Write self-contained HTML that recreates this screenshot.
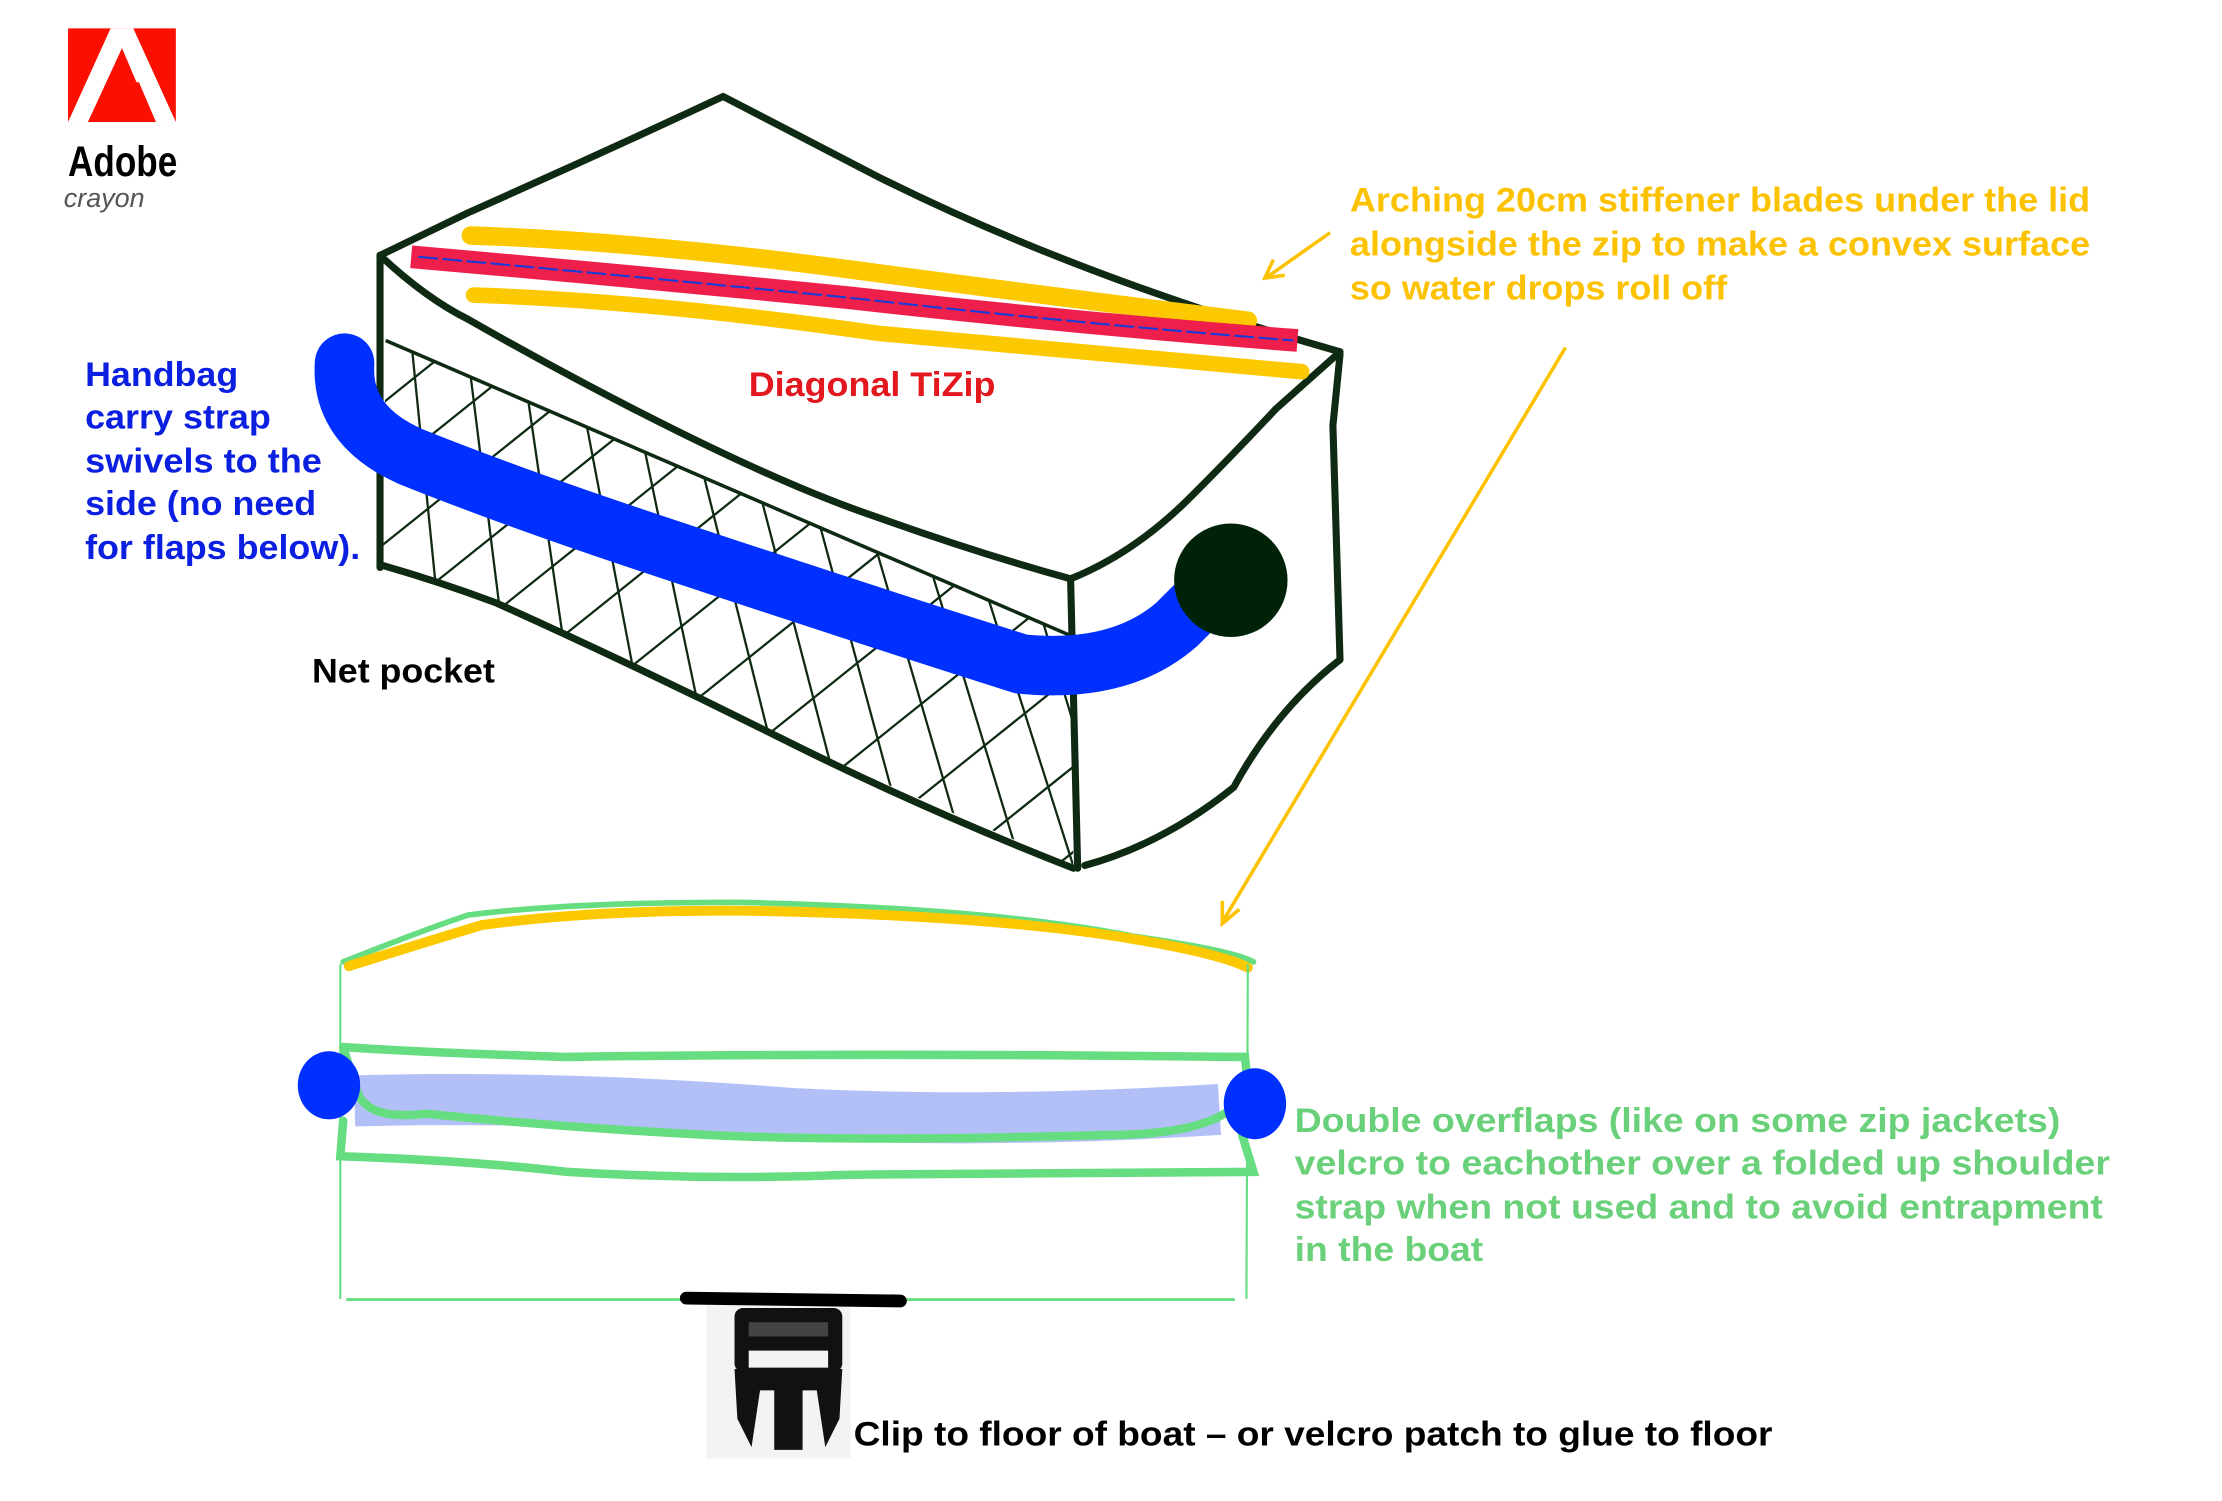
<!DOCTYPE html>
<html><head><meta charset="utf-8"><style>
html,body{margin:0;padding:0;background:#fff;}
svg{display:block;}
text{font-family:"Liberation Sans",Arial,sans-serif;font-weight:bold;}
</style></head><body>
<svg width="2222" height="1501" viewBox="0 0 1567 1058" preserveAspectRatio="none" xmlns="http://www.w3.org/2000/svg">
<rect width="1567" height="1058" fill="#fff"/>
<!-- Adobe logo -->
<rect x="48" y="20" width="76" height="66" fill="#fa0f00"/>
<polygon points="78,20 94,20 124,86 110,86 98,58 88,58 92,48 86,34 62,86 48,86" fill="#fff"/>
<polygon points="86,34 98,62 88,62" fill="#fa0f00"/>
<text x="48" y="124" font-size="30" fill="#000" textLength="77" lengthAdjust="spacingAndGlyphs">Adobe</text>
<text x="45" y="146" font-size="19" fill="#555" style="font-weight:normal" font-style="italic">crayon</text>

<!-- Box outline -->
<g fill="none" stroke="#0f2a12" stroke-width="5" stroke-linejoin="round" stroke-linecap="round">
<path d="M268,180 L330,150 Q420,110 510,68 L620,125 Q760,195 945,248"/>
<path d="M268,180 Q300,210 330,225 Q400,265 470,300 Q560,345 620,365 Q690,390 755,408"/>
<path d="M945,248 L900,288 Q870,320 840,350 Q800,390 755,408"/>
<path d="M268,180 L268,400"/>
<path d="M755,408 L760,612"/>
<path d="M945,250 L940,300 L945,465 Q900,500 870,555 Q820,595 765,610"/>
<path d="M268,398 Q310,410 350,425 Q450,470 550,520 Q650,570 757,612"/>
</g>
<!-- net -->
<path d="M272,240 L755,448" stroke="#0f2a12" stroke-width="2.5" fill="none"/>
<clipPath id="net"><polygon points="272,240 755,448 757,610 550,520 350,425 270,396"/></clipPath>
<g clip-path="url(#net)" stroke="#0f2a12" stroke-width="1.6">
<line x1="250" y1="300" x2="350" y2="220"/><line x1="250" y1="350" x2="400" y2="230"/><line x1="250" y1="400" x2="450" y2="240"/>
<line x1="270" y1="440" x2="500" y2="256"/><line x1="320" y1="455" x2="550" y2="271"/><line x1="370" y1="470" x2="600" y2="286"/>
<line x1="420" y1="490" x2="650" y2="306"/><line x1="470" y1="510" x2="700" y2="326"/><line x1="520" y1="535" x2="750" y2="351"/>
<line x1="570" y1="560" x2="800" y2="376"/><line x1="620" y1="585" x2="850" y2="401"/><line x1="670" y1="610" x2="900" y2="426"/>
<line x1="720" y1="630" x2="950" y2="446"/>
<line x1="290" y1="240" x2="310" y2="440"/><line x1="330" y1="250" x2="355" y2="450"/><line x1="370" y1="265" x2="400" y2="470"/>
<line x1="410" y1="280" x2="450" y2="490"/><line x1="450" y1="295" x2="495" y2="510"/><line x1="490" y1="310" x2="545" y2="530"/>
<line x1="530" y1="325" x2="590" y2="555"/><line x1="570" y1="340" x2="635" y2="580"/><line x1="610" y1="360" x2="680" y2="600"/>
<line x1="650" y1="380" x2="720" y2="610"/><line x1="690" y1="400" x2="760" y2="620"/><line x1="730" y1="420" x2="790" y2="620"/>
</g>
<!-- yellow stiffeners -->
<path d="M332,166 Q450,170 600,190 Q750,210 880,226" stroke="#fcc800" stroke-width="13" fill="none" stroke-linecap="round"/>
<path d="M334,208 Q460,212 620,235 Q780,250 918,262" stroke="#fcc800" stroke-width="11" fill="none" stroke-linecap="round"/>
<!-- red zip -->
<path d="M290,181 Q450,195 600,210 Q760,228 915,240" stroke="#ee1f4a" stroke-width="16" fill="none"/>
<path d="M295,181 Q450,195 600,210 Q760,228 912,240" stroke="#1b3bd8" stroke-width="1.5" fill="none" stroke-dasharray="14 3"/>
<!-- blue strap -->
<path d="M243,256 Q240,300 290,322 Q360,350 450,380 Q600,430 720,468 Q790,475 830,440 L850,420" stroke="#0030ff" stroke-width="42" fill="none" stroke-linecap="round"/>
<circle cx="868" cy="409" r="40" fill="#002308"/>

<!-- labels -->
<g fill="#fcc200" font-size="24">
<text x="952" y="149" textLength="522" lengthAdjust="spacingAndGlyphs">Arching 20cm stiffener blades under the lid</text>
<text x="952" y="180" textLength="522" lengthAdjust="spacingAndGlyphs">alongside the zip to make a convex surface</text>
<text x="952" y="211" textLength="266" lengthAdjust="spacingAndGlyphs">so water drops roll off</text>
</g>
<g stroke="#fcc200" stroke-width="2.5" fill="none">
<line x1="938" y1="164" x2="894" y2="195"/><polyline points="898,183 892,196 906,194"/>
<line x1="1104" y1="245" x2="862" y2="650"/><polyline points="862,635 862,651 874,641"/>
</g>
<g fill="#0a1fe0" font-size="24">
<text x="60" y="272" textLength="108" lengthAdjust="spacingAndGlyphs">Handbag</text>
<text x="60" y="302" textLength="131" lengthAdjust="spacingAndGlyphs">carry strap</text>
<text x="60" y="333" textLength="167" lengthAdjust="spacingAndGlyphs">swivels to the</text>
<text x="60" y="363" textLength="163" lengthAdjust="spacingAndGlyphs">side (no need</text>
<text x="60" y="394" textLength="194" lengthAdjust="spacingAndGlyphs">for flaps below).</text>
</g>
<text x="528" y="279" font-size="24" fill="#e3171e" textLength="174" lengthAdjust="spacingAndGlyphs">Diagonal TiZip</text>
<text x="220" y="481" font-size="24" fill="#000" textLength="129" lengthAdjust="spacingAndGlyphs">Net pocket</text>

<!-- lower drawing -->
<g fill="none" stroke-linecap="round">
<path d="M242,678 Q300,655 330,645 Q400,636 520,636 Q700,640 800,660 Q870,670 884,678" stroke="#66dd80" stroke-width="4"/>
<path d="M246,681 Q300,664 340,652 Q420,641 530,642 Q700,645 800,662 Q860,672 880,682" stroke="#fcc800" stroke-width="7"/>
<line x1="240" y1="680" x2="240" y2="915" stroke="#66dd80" stroke-width="1.5"/>
<line x1="880" y1="680" x2="879" y2="915" stroke="#66dd80" stroke-width="1.5"/>
<line x1="245" y1="916" x2="870" y2="916" stroke="#66dd80" stroke-width="2"/>
<path d="M250,776 Q400,772 560,785 Q700,792 860,782" stroke="#b3c0f8" stroke-width="36" stroke-linecap="butt"/>
<path d="M242,738 Q300,742 400,745 Q600,742 878,745 L880,765 Q870,800 780,800 Q600,805 500,800 Q400,795 300,785 Q260,790 252,770 L242,738" stroke="#66dd80" stroke-width="6"/>
<path d="M242,790 L240,815 Q330,818 400,826 Q500,832 600,828 L884,826 L876,800" stroke="#66dd80" stroke-width="6"/>
</g>
<ellipse cx="232" cy="765" rx="22" ry="24" fill="#0030ff"/>
<ellipse cx="885" cy="778" rx="22" ry="25" fill="#0030ff"/>
<g fill="#6ad07a" font-size="24">
<text x="913" y="798" textLength="540" lengthAdjust="spacingAndGlyphs">Double overflaps (like on some zip jackets)</text>
<text x="913" y="828" textLength="575" lengthAdjust="spacingAndGlyphs">velcro to eachother over a folded up shoulder</text>
<text x="913" y="859" textLength="570" lengthAdjust="spacingAndGlyphs">strap when not used and to avoid entrapment</text>
<text x="913" y="889" textLength="133" lengthAdjust="spacingAndGlyphs">in the boat</text>
</g>
<!-- clip -->
<rect x="498" y="918" width="102" height="110" fill="#f3f3f3"/>
<path d="M484,915 L635,917" stroke="#000" stroke-width="9" stroke-linecap="round"/>
<rect x="518" y="922" width="76" height="45" rx="6" fill="#111"/>
<rect x="528" y="952" width="56" height="12" fill="#f3f3f3"/>
<rect x="528" y="932" width="56" height="10" fill="#444"/>
<path d="M518,965 L594,965 L592,1000 L582,1020 L576,980 L566,980 L566,1022 L546,1022 L546,980 L536,980 L530,1020 L520,1000 Z" fill="#111"/>
<text x="602" y="1019" font-size="24" fill="#000" textLength="648" lengthAdjust="spacingAndGlyphs">Clip to floor of boat – or velcro patch to glue to floor</text>
</svg>
</body></html>
